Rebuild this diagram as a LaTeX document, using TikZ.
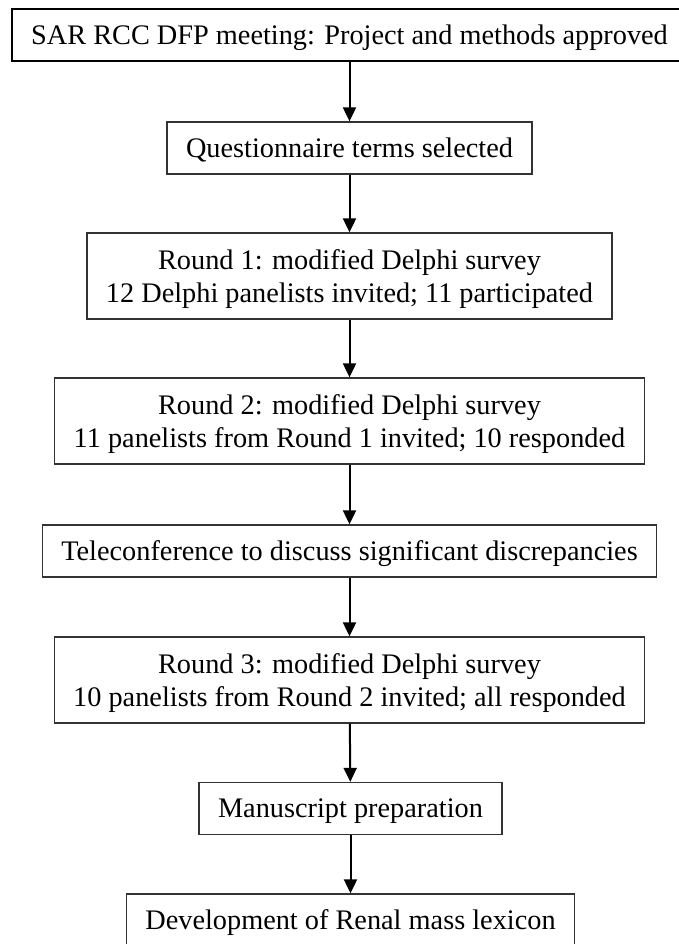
\documentclass[tikz,border=0pt]{standalone}
\usepackage{fontspec}
\setmainfont{Liberation Serif}
\usetikzlibrary{arrows.meta}
\begin{document}
\begin{tikzpicture}[x=1pt,y=-1pt,
  stepbox/.style={draw=black!80, line width=1.3pt, inner xsep=19pt, inner ysep=0pt,
    align=center, text depth=0pt, font=\fontsize{28.3}{32.5}\selectfont},
  one/.style={minimum height=52pt},
  two/.style={minimum height=86pt},
  flow/.style={draw=black, line width=2pt, -{Triangle[width=13pt,length=14pt]}}]
\useasboundingbox (0,0) rectangle (679,944);
\node[stepbox,one,draw=black,line width=2pt] (b1) at (349.5,35) {SAR RCC DFP meeting: Project and methods approved};
\node[stepbox,one] (b2) at (349.5,148) {Questionnaire terms selected};
\node[stepbox,two] (b3) at (349.5,276) {Round 1: modified Delphi survey\\12 Delphi panelists invited; 11 participated};
\node[stepbox,two] (b4) at (349.5,421) {Round 2: modified Delphi survey\\11 panelists from Round 1 invited; 10 responded};
\node[stepbox,one] (b5) at (349.5,551) {Teleconference to discuss significant discrepancies};
\node[stepbox,two] (b6) at (349.5,680) {Round 3: modified Delphi survey\\10 panelists from Round 2 invited; all responded};
\node[stepbox,one] (b7) at (350.5,808.5) {Manuscript preparation};
\node[stepbox,one] (b8) at (350.5,920) {Development of Renal mass lexicon};
\draw[flow] (b1) -- (b2);
\draw[flow] (b2) -- (b3);
\draw[flow] (b3) -- (b4);
\draw[flow] (b4) -- (b5);
\draw[flow] (b5) -- (b6);
\draw[flow] (b6) -- (b7);
\draw[flow] (b7) -- (b8);
\end{tikzpicture}
\end{document}
